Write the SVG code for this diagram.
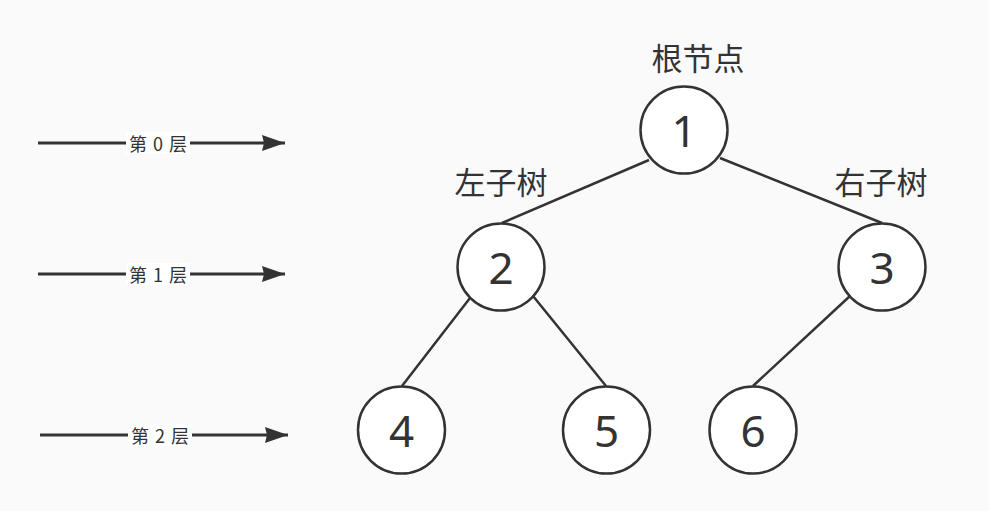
<svg xmlns="http://www.w3.org/2000/svg" width="989" height="511" viewBox="0 0 989 511">
<defs>
<marker id="arr" markerWidth="23" markerHeight="16" refX="23" refY="8" orient="auto" markerUnits="userSpaceOnUse">
<path d="M0,0 L23,8 L0,16 L2,8 Z" fill="#333"/>
</marker>
<style>
.node circle{fill:#fff;stroke:#333;stroke-width:2.5}
.node text{font-family:"Noto Sans","Noto Sans CJK SC",sans-serif;font-size:44px;fill:#333;text-anchor:middle;dominant-baseline:central}
.edge{stroke:#333;stroke-width:2.5;fill:none}
.lbl{font-family:"Noto Sans CJK SC","Noto Sans",sans-serif;font-size:31px;fill:#333;text-anchor:middle}
.lvl{font-family:"Noto Sans CJK SC","Noto Sans",sans-serif;font-size:18px;fill:#333;text-anchor:middle;dominant-baseline:central;word-spacing:2px}
.arrow{stroke:#333;stroke-width:2.8;fill:none}
</style>
</defs>
<rect width="989" height="511" fill="#fafafa"/>
<g id="connectors">
<line class="edge" x1="649" y1="160" x2="502" y2="223"/>
<line class="edge" x1="720" y1="158" x2="882" y2="223"/>
<line class="edge" x1="470" y1="298" x2="402" y2="386"/>
<line class="edge" x1="533" y1="296" x2="606" y2="386"/>
<line class="edge" x1="850" y1="296" x2="753" y2="386"/>
<line class="arrow" x1="38" y1="143" x2="285" y2="143" marker-end="url(#arr)"/>
<line class="arrow" x1="38" y1="274" x2="285" y2="274" marker-end="url(#arr)"/>
<line class="arrow" x1="40" y1="435" x2="288" y2="435" marker-end="url(#arr)"/>
</g>
<g id="level0"><rect x="126" y="132" width="64" height="22" fill="#fff"/><text class="lvl" x="158" y="143">第 0 层</text></g>
<g id="level1"><rect x="126" y="263" width="64" height="22" fill="#fff"/><text class="lvl" x="158" y="274">第 1 层</text></g>
<g id="level2"><rect x="128" y="424" width="64" height="22" fill="#fff"/><text class="lvl" x="160" y="435">第 2 层</text></g>
<g id="label-root"><text class="lbl" x="698" y="70">根节点</text></g>
<g id="label-left"><text class="lbl" x="501" y="194">左子树</text></g>
<g id="label-right"><text class="lbl" x="881" y="194">右子树</text></g>
<g id="node1" class="node"><circle cx="684" cy="130" r="43.5"/><text x="684" y="130">1</text></g>
<g id="node2" class="node"><circle cx="501" cy="267" r="43.5"/><text x="501" y="267">2</text></g>
<g id="node3" class="node"><circle cx="882" cy="267" r="43.5"/><text x="882" y="267">3</text></g>
<g id="node4" class="node"><circle cx="401.5" cy="430" r="43.5"/><text x="401.5" y="430">4</text></g>
<g id="node5" class="node"><circle cx="606.5" cy="430" r="43.5"/><text x="606.5" y="430">5</text></g>
<g id="node6" class="node"><circle cx="753" cy="430" r="43.5"/><text x="753" y="430">6</text></g>
</svg>
